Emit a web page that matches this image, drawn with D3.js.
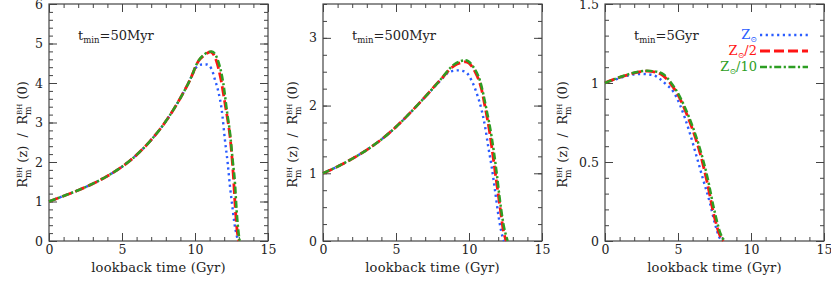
<!DOCTYPE html>
<html>
<head>
<meta charset="utf-8">
<script src="https://cdn.jsdelivr.net/npm/d3@7"></script>
<style>
  body { margin: 0; background: #fff; }
  text { font-family: "DejaVu Serif", serif; fill: #222; }
</style>
</head>
<body>
<div id="chart"></div>
<script>
// lookback time (Gyr) and R_m^BH(z)/R_m^BH(0)
// panel 1 : t_min = 50 Myr
const p1_sun_t  = [0, 1, 2, 3, 4, 5, 6, 7, 8, 9, 9.66, 10.1, 10.5, 10.8, 11.14, 11.37, 11.6, 11.83, 12.05, 12.24, 12.4, 12.56, 12.7, 12.85, 12.95];
const p1_sun_r  = [1.0, 1.14, 1.285, 1.45, 1.645, 1.88, 2.18, 2.56, 3.03, 3.62, 4.08, 4.40, 4.47, 4.47, 4.35, 4.08, 3.78, 3.32, 2.56, 1.97, 1.37, 0.87, 0.45, 0.15, 0];
const p1_half_t = [0, 1, 2, 3, 4, 5, 6, 7, 8, 9, 9.66, 10.23, 10.7, 11.05, 11.48, 11.76, 12.05, 12.24, 12.4, 12.51, 12.63, 12.74, 12.86, 13.0];
const p1_half_r = [1.0, 1.14, 1.285, 1.45, 1.645, 1.88, 2.18, 2.56, 3.03, 3.62, 4.08, 4.55, 4.72, 4.79, 4.54, 4.12, 3.49, 3.06, 2.64, 2.22, 1.63, 0.95, 0.36, 0];
const p1_tenth_t = [0, 1, 2, 3, 4, 5, 6, 7, 8, 9, 9.66, 10.23, 10.7, 11.15, 11.6, 11.94, 12.21, 12.4, 12.58, 12.74, 12.85, 12.99, 13.06];
const p1_tenth_r = [1.0, 1.14, 1.285, 1.45, 1.645, 1.88, 2.18, 2.56, 3.03, 3.62, 4.08, 4.56, 4.74, 4.80, 4.54, 3.99, 3.23, 2.73, 2.05, 1.46, 0.78, 0.19, 0];

// panel 2 : t_min = 500 Myr
const p2_sun_t  = [0, 1, 2, 3, 4, 5, 6, 7, 8, 8.7, 9.27, 9.73, 10.18, 10.53, 10.87, 11.1, 11.32, 11.55, 11.78, 11.96, 12.12, 12.3, 12.4];
const p2_sun_r  = [1.0, 1.10, 1.215, 1.345, 1.50, 1.685, 1.90, 2.13, 2.36, 2.50, 2.52, 2.50, 2.37, 2.18, 1.93, 1.69, 1.39, 1.10, 0.75, 0.46, 0.24, 0.06, 0];
const p2_half_t = [0, 1, 2, 3, 4, 5, 6, 7, 8, 9, 9.4, 9.75, 10.41, 10.87, 11.1, 11.39, 11.62, 11.9, 12.12, 12.35, 12.55];
const p2_half_r = [1.0, 1.10, 1.215, 1.345, 1.50, 1.685, 1.90, 2.13, 2.37, 2.59, 2.63, 2.645, 2.50, 2.23, 1.98, 1.64, 1.29, 0.85, 0.51, 0.16, 0];
const p2_tenth_t = [0, 1, 2, 3, 4, 5, 6, 7, 8, 9, 9.4, 9.75, 10.3, 10.75, 11.21, 11.55, 11.9, 12.12, 12.35, 12.65];
const p2_tenth_r = [1.0, 1.10, 1.215, 1.345, 1.50, 1.685, 1.90, 2.13, 2.37, 2.61, 2.655, 2.67, 2.57, 2.37, 1.93, 1.54, 1.0, 0.60, 0.26, 0];

// panel 3 : t_min = 5 Gyr
const p3_sun_t  = [0, 0.8, 1.7, 2.5, 3.3, 3.7, 4.2, 4.68, 5.14, 5.82, 6.28, 6.73, 7.19, 7.53, 7.8, 7.97];
const p3_sun_r  = [1.0, 1.025, 1.05, 1.057, 1.05, 1.03, 0.99, 0.945, 0.86, 0.68, 0.533, 0.386, 0.24, 0.11, 0.03, 0];
const p3_half_t = [0, 0.8, 1.5, 2.2, 2.9, 3.5, 4, 4.5, 5, 5.5, 6, 6.5, 7, 7.5, 7.85, 8.1];
const p3_half_r = [1.0, 1.03, 1.05, 1.068, 1.075, 1.068, 1.045, 0.995, 0.925, 0.825, 0.705, 0.56, 0.37, 0.15, 0.04, 0];
const p3_tenth_t = [0, 0.8, 1.5, 2.2, 2.9, 3.5, 4, 4.5, 5, 5.5, 6, 6.5, 7, 7.5, 7.9, 8.2];
const p3_tenth_r = [1.0, 1.03, 1.052, 1.07, 1.077, 1.072, 1.055, 1.005, 0.935, 0.84, 0.725, 0.585, 0.41, 0.19, 0.05, 0];

const xTicks = [0, 5, 10, 15];
const p1_yTicks = [0, 1, 2, 3, 4, 5, 6];
const p2_yTicks = [0, 1, 2, 3];
const p3_yTicks = [0, 0.5, 1, 1.5];
const tminLabels = ["50Myr", "500Myr", "5Gyr"];
const legendLabels = ["", "/2", "/10"];

const W = 831, H = 281;
const plotTop = 4, plotBottom = 241, pw = 219;
const lefts = [49, 323, 605];
const ylabelGap = [22, 26, 38];

const styles = [
  { color: "#2a5cff", width: 2.4, dash: "2.2,3.5", cap: "butt" },
  { color: "#ff1414", width: 2.8, dash: "10,4", cap: "butt" },
  { color: "#2d9e23", width: 2.5, dash: "7,2.5,2.2,2.5", cap: "butt" }
];

const panels = [
  { yMax: 6, yTicks: p1_yTicks, yMinor: 0.2, series: [[p1_sun_t, p1_sun_r], [p1_half_t, p1_half_r], [p1_tenth_t, p1_tenth_r]] },
  { yMax: 3.5, yTicks: p2_yTicks, yMinor: 0.25, series: [[p2_sun_t, p2_sun_r], [p2_half_t, p2_half_r], [p2_tenth_t, p2_tenth_r]] },
  { yMax: 1.5, yTicks: p3_yTicks, yMinor: 0.1, series: [[p3_sun_t, p3_sun_r], [p3_half_t, p3_half_r], [p3_tenth_t, p3_tenth_r]] }
];

const svg = d3.select("#chart").append("svg").attr("width", W).attr("height", H);

function minorRange(max, step) {
  return d3.range(0, Math.round(max / step) + 1).map(i => +(i * step).toFixed(4));
}

function ylabel(g) {
  const t = g.append("text").attr("text-anchor", "middle").style("font-size", "13px").style("white-space", "pre");
  function rPart() {
    t.append("tspan").text("R");
    const bh = t.append("tspan").text("BH").style("font-size", "7px").attr("dy", -5);
    const m = t.append("tspan").text("m").style("font-size", "9px").attr("dy", 8.5);
    const bw = bh.node().getComputedTextLength();
    const mw = m.node().getComputedTextLength();
    m.attr("dx", -bw);
    return Math.max(0, bw - mw);
  }
  let extra = rPart();
  t.append("tspan").text(" (z)  /  ").attr("dy", -3.5).attr("dx", extra);
  extra = rPart();
  t.append("tspan").text(" (0)").attr("dy", -3.5).attr("dx", extra);
}

panels.forEach((p, i) => {
  const left = lefts[i];
  const x = d3.scaleLinear().domain([0, 15]).range([left, left + pw]);
  const y = d3.scaleLinear().domain([0, p.yMax]).range([plotBottom, plotTop]);
  const g = svg.append("g");

  const xMinor = d3.range(0, 16);
  const yMinor = minorRange(p.yMax, p.yMinor);

  const axes = [
    [d3.axisBottom(x).tickValues(xMinor).tickSize(-4).tickFormat(""), `translate(0,${plotBottom})`],
    [d3.axisBottom(x).tickValues(xTicks).tickSize(-8).tickPadding(4).tickFormat(d => d), `translate(0,${plotBottom})`],
    [d3.axisTop(x).tickValues(xMinor).tickSize(-4).tickFormat(""), `translate(0,${plotTop})`],
    [d3.axisTop(x).tickValues(xTicks).tickSize(-8).tickFormat(""), `translate(0,${plotTop})`],
    [d3.axisLeft(y).tickValues(yMinor).tickSize(-4).tickFormat(""), `translate(${left},0)`],
    [d3.axisLeft(y).tickValues(p.yTicks).tickSize(-8).tickPadding(6).tickFormat(d => d), `translate(${left},0)`],
    [d3.axisRight(y).tickValues(yMinor).tickSize(-4).tickFormat(""), `translate(${left + pw},0)`],
    [d3.axisRight(y).tickValues(p.yTicks).tickSize(-8).tickFormat(""), `translate(${left + pw},0)`]
  ];
  axes.forEach(([ax, tr]) => {
    const a = g.append("g").attr("transform", tr).call(ax);
    a.select(".domain").remove();
    a.selectAll("line").attr("stroke", "#444");
    a.selectAll("text").style("font-family", "DejaVu Serif, serif").style("font-size", "12.5px").attr("fill", "#222");
  });

  g.append("rect").attr("x", left).attr("y", plotTop).attr("width", pw).attr("height", plotBottom - plotTop)
    .attr("fill", "none").attr("stroke", "#444").attr("stroke-width", 1.2);

  const line = d3.line().x(d => x(d[0])).y(d => y(d[1])).curve(d3.curveMonotoneX);
  p.series.forEach(([ts, rs], k) => {
    const s = styles[k];
    g.append("path").datum(ts.map((t, j) => [t, rs[j]]))
      .attr("d", line).attr("fill", "none")
      .attr("stroke", s.color).attr("stroke-width", s.width)
      .attr("stroke-dasharray", s.dash).attr("stroke-linecap", s.cap);
  });

  // x label
  g.append("text").attr("x", left + pw / 2).attr("y", 272).attr("text-anchor", "middle")
    .style("font-size", "13px").style("letter-spacing", "0.2px").text("lookback time (Gyr)");

  // y label
  ylabel(g.append("g").attr("transform", `translate(${left - ylabelGap[i]},${(plotTop + plotBottom) / 2 + 12}) rotate(-90)`));

  // t_min annotation
  const ann = g.append("text").attr("x", left + 29).attr("y", 40).style("font-size", "13px");
  ann.append("tspan").text("t");
  ann.append("tspan").text("min").style("font-size", "8.5px").attr("dy", 3);
  ann.append("tspan").text("=" + tminLabels[i]).attr("dy", -3);
});

// legend in the third panel
const legY = [35, 51, 67];
const legX0 = 760, legX1 = 808;
legendLabels.forEach((lab, k) => {
  const s = styles[k];
  svg.append("line").attr("x1", legX0).attr("x2", legX1).attr("y1", legY[k]).attr("y2", legY[k])
    .attr("stroke", s.color).attr("stroke-width", s.width)
    .attr("stroke-dasharray", s.dash).attr("stroke-linecap", s.cap);
  const t = svg.append("text").attr("x", 757).attr("y", legY[k] + 4).attr("text-anchor", "end")
    .style("font-size", "13px").style("fill", s.color);
  t.append("tspan").text("Z");
  t.append("tspan").text("⊙").style("font-size", "8px").style("fill", s.color).attr("dy", 3);
  if (lab) t.append("tspan").text(lab).style("fill", s.color).attr("dy", -3);
});
</script>
</body>
</html>
